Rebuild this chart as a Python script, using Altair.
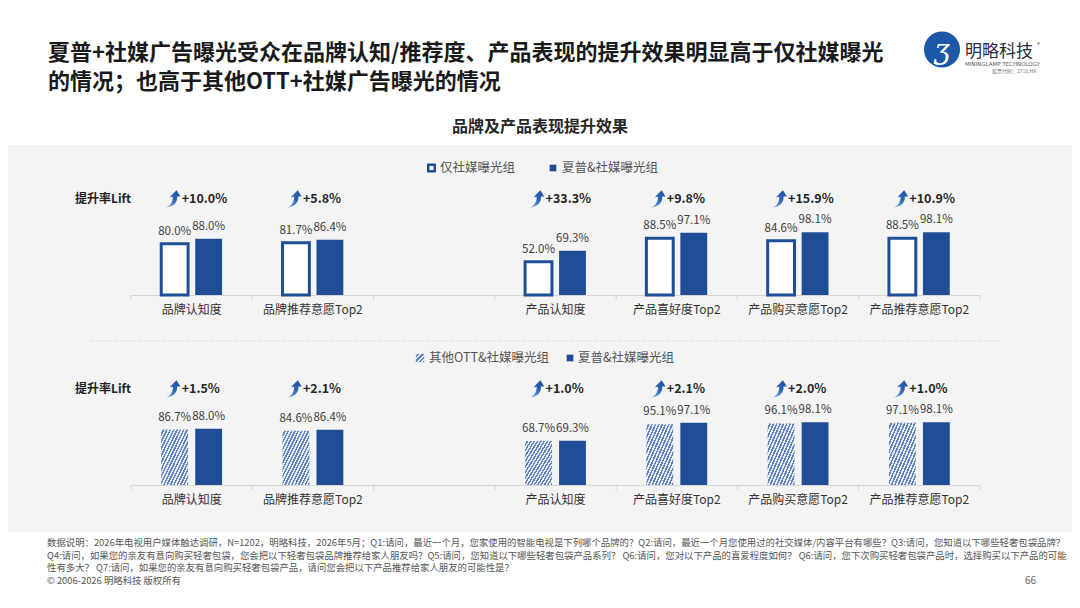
import altair as alt
import pandas as pd

FONT = "Noto Sans CJK SC"
BLUE = "#1f4e97"

# ---------------- data ----------------
CATS = ["品牌认知度", "品牌推荐意愿Top2", " ", "产品认知度", "产品喜好度Top2", "产品购买意愿Top2", "产品推荐意愿Top2"]
BAR_CATS = ["品牌认知度", "品牌推荐意愿Top2", "产品认知度", "产品喜好度Top2", "产品购买意愿Top2", "产品推荐意愿Top2"]

TOP_GROUPS = ["仅社媒曝光组", "夏普&社媒曝光组"]
TOP_BASE = [80.0, 81.7, 52.0, 88.5, 84.6, 88.5]
TOP_SHARP = [88.0, 86.4, 69.3, 97.1, 98.1, 98.1]
TOP_LIFT = ["+10.0%", "+5.8%", "+33.3%", "+9.8%", "+15.9%", "+10.9%"]

BOT_GROUPS = ["其他OTT&社媒曝光组", "夏普&社媒曝光组"]
BOT_BASE = [86.7, 84.6, 68.7, 95.1, 96.1, 97.1]
BOT_SHARP = [88.0, 86.4, 69.3, 97.1, 98.1, 98.1]
BOT_LIFT = ["+1.5%", "+2.1%", "+1.0%", "+2.1%", "+2.0%", "+1.0%"]

TITLE_LINES = ["夏普+社媒广告曝光受众在品牌认知/推荐度、产品表现的提升效果明显高于仅社媒曝光",
               "的情况；也高于其他OTT+社媒广告曝光的情况"]
SUBTITLE = "品牌及产品表现提升效果"
LIFT_LABEL = "提升率Lift"
NOTE_LINES = [
    "数据说明：2026年电视用户媒体触达调研，N=1202，明略科技，2026年5月；Q1:请问，最近一个月，您家使用的智能电视是下列哪个品牌的？Q2:请问，最近一个月您使用过的社交媒体/内容平台有哪些？Q3:请问，您知道以下哪些轻奢包袋品牌？",
    "Q4:请问，如果您的亲友有意向购买轻奢包袋，您会把以下轻奢包袋品牌推荐给家人朋友吗？Q5:请问，您知道以下哪些轻奢包袋产品系列？ Q6:请问，您对以下产品的喜爱程度如何？ Q6:请问，您下次购买轻奢包袋产品时，选择购买以下产品的可能",
    "性有多大？ Q7:请问，如果您的亲友有意向购买轻奢包袋产品，请问您会把以下产品推荐给家人朋友的可能性是？",
]
COPYRIGHT = "© 2006-2026 明略科技 版权所有"
PAGE_NO = "66"

# ---------------- styles ----------------
W = 1064
PX = 0.64  # pixels per percentage point


def hatch(n, light="#e6ecf6", dark="#6384bf", frac=0.5):
    stops = []
    for k in range(n):
        a, b, c = k / n, (k + frac) / n, (k + 1) / n
        stops += [alt.GradientStop(color=light, offset=a), alt.GradientStop(color=light, offset=b),
                  alt.GradientStop(color=dark, offset=b), alt.GradientStop(color=dark, offset=c)]
    return alt.Gradient(gradient="linear", stops=stops, x1=0, y1=0, x2=1, y2=1)


HATCH = hatch(16)
HATCH_SMALL = hatch(4)
ARROW = ("M -0.75 1 C -0.15 0.75 0.05 0.2 0.02 -0.25 L -0.35 -0.2 L 0.45 -1 L 0.9 -0.3 "
         "L 0.52 -0.28 C 0.58 0.4 0.1 0.9 -0.75 1 Z")
ARROW_FILL = alt.Gradient(gradient="linear",
                          stops=[alt.GradientStop(color="#86b4ee", offset=0),
                                 alt.GradientStop(color="#2a62b6", offset=0.55),
                                 alt.GradientStop(color="#1d4f9e", offset=1)],
                          x1=0, y1=1, x2=1, y2=0)

XSCALE = alt.Scale(domain=CATS, range=[123, 972], paddingInner=0, paddingOuter=0)
ONE = pd.DataFrame({"k": [0]})


def xenc(h, base_y, bp=None):
    axis = alt.Axis(offset=-(h - base_y), domainColor="#d6d6d6", domainWidth=1, ticks=False, tickSize=0,
                    labelPadding=9, labelFontSize=12, labelColor="#333333", labelAngle=0,
                    labelFont=FONT, grid=False, title=None, labelOverlap=False)
    kw = dict(scale=XSCALE, axis=axis, title=None, sort=CATS)
    if bp is not None:
        kw["bandPosition"] = bp
    return alt.X("cat:N", **kw)


def text_at(txt, x, y, **mk):
    return alt.Chart(ONE).mark_text(**mk).encode(x=alt.value(x), y=alt.value(y), text=alt.value(txt))


def legend_item(label, sym_kw, sx, tx, y):
    sym = alt.Chart(ONE).mark_point(**sym_kw).encode(x=alt.value(sx), y=alt.value(y))
    txt = text_at(label, tx, y, align="left", baseline="middle", fontSize=12.5, color="#555555", font=FONT)
    return [sym, txt]


def panel(groups, base_vals, sharp_vals, lifts, h, base_y, legend_y, lift_y, hatched, legend_pos):
    n = len(BAR_CATS)
    df = pd.DataFrame({"cat": BAR_CATS + BAR_CATS,
                       "grp": ["g0"] * n + ["g1"] * n,
                       "group": [groups[0]] * n + [groups[1]] * n,
                       "val": list(base_vals) + list(sharp_vals)})
    df["label"] = [f"{v:.1f}%" for v in df["val"]]
    Y = alt.Y("val:Q", scale=alt.Scale(domain=[-(h - base_y) / PX, base_y / PX], nice=False, zero=False),
              axis=None, title=None)
    XO = alt.XOffset("grp:N", sort=["g0", "g1"],
                     scale=alt.Scale(domain=["g0", "g1"], paddingInner=0.21, paddingOuter=0.89))
    X = xenc(h, base_y)
    base = alt.Chart(df)
    layers = []

    # separators at band boundaries
    layers.append(alt.Chart(pd.DataFrame({"cat": CATS})).mark_rule(color="#d6d6d6", strokeWidth=1).encode(
        x=xenc(h, base_y, 0), y=alt.value(base_y), y2=alt.value(base_y + 5)))
    layers.append(alt.Chart(pd.DataFrame({"cat": [CATS[-1]]})).mark_rule(color="#d6d6d6", strokeWidth=1).encode(
        x=xenc(h, base_y, 1), y=alt.value(base_y), y2=alt.value(base_y + 5)))

    first = base.transform_filter(alt.datum.grp == "g0")
    if hatched:
        layers.append(first.mark_bar(fill=HATCH, strokeWidth=0).encode(x=X, xOffset=XO, y=Y, y2=alt.datum(0)))
    else:
        layers.append(first.mark_bar(fill="white", stroke=BLUE, strokeWidth=3).encode(
            x=X, xOffset=XO, y=Y, y2=alt.datum(0)))
    layers.append(base.transform_filter(alt.datum.grp == "g1").mark_bar(color=BLUE).encode(
        x=X, xOffset=XO, y=Y, y2=alt.datum(0)))

    layers.append(base.mark_text(dy=-12, baseline="middle", fontSize=11.5, color="#404040", font=FONT).encode(
        x=X, xOffset=XO, y=Y, text="label:N"))

    ldf = pd.DataFrame({"cat": BAR_CATS, "lift": lifts})
    layers.append(alt.Chart(ldf).mark_point(shape=ARROW, filled=True, fill=ARROW_FILL, size=300,
                                            opacity=1, strokeWidth=0).encode(
        x=xenc(h, base_y, 0.343), y=alt.value(lift_y)))
    layers.append(alt.Chart(ldf).mark_text(align="left", dx=-10, baseline="middle", fontSize=12.5,
                                           fontWeight="bold", color="#262626", font=FONT).encode(
        x=X, y=alt.value(lift_y), text="lift:N"))
    layers.append(text_at(LIFT_LABEL, 67, lift_y, align="left", baseline="middle", fontSize=12,
                          fontWeight="bold", color="#222222", font=FONT))

    # legend
    (s0, t0), (s1, t1) = legend_pos
    if hatched:
        sym0 = dict(shape="square", filled=True, fill=HATCH_SMALL, size=70, opacity=1, strokeWidth=0)
    else:
        sym0 = dict(shape="square", filled=False, fill="white", stroke=BLUE, strokeWidth=2.5, size=42, opacity=1)
    sym1 = dict(shape="square", filled=True, fill=BLUE, size=45, opacity=1, strokeWidth=0)
    layers += legend_item(groups[0], sym0, s0, t0, legend_y)
    layers += legend_item(groups[1], sym1, s1, t1, legend_y)
    return layers


top_layers = panel(TOP_GROUPS, TOP_BASE, TOP_SHARP, TOP_LIFT, 195, 150, 23, 54, False,
                   [(423.5, 432), (545, 554)])
top = alt.layer(*top_layers).properties(width=W, height=195,
                                        view=alt.ViewBackground(fill="#f4f4f4", stroke=None))

bot_layers = [alt.Chart(ONE).mark_rule(color="#c4c4c4", strokeDash=[1, 2], strokeWidth=1).encode(
    x=alt.value(82), x2=alt.value(992), y=alt.value(1))]
bot_layers += panel(BOT_GROUPS, BOT_BASE, BOT_SHARP, BOT_LIFT, 192, 145, 18, 49, True,
                    [(412, 421), (562, 570)])
bottom = alt.layer(*bot_layers).properties(width=W, height=192,
                                           view=alt.ViewBackground(fill="#f4f4f4", stroke=None))

# header
header_layers = [
    text_at(TITLE_LINES, 40, 44.5, align="left", baseline="middle", fontSize=22, fontWeight="bold",
            lineHeight=29, color="#1a1a1a", font=FONT),
    text_at(SUBTITLE, 532, 119, align="center", baseline="middle", fontSize=16, fontWeight="bold",
            color="#262626", font=FONT),
    alt.Chart(ONE).mark_point(shape="circle", filled=True, fill="#1c58a8", size=1300, opacity=1,
                              strokeWidth=0).encode(x=alt.value(934), y=alt.value(41.5)),
    text_at("ʒ", 934, 43, align="center", baseline="middle", fontSize=28, fontStyle="italic",
            color="white", font="DejaVu Serif"),
    text_at("明略科技", 957, 44, align="left", baseline="middle", fontSize=17, color="#2b2b3a", font=FONT),
    text_at("MININGLAMP TECHNOLOGY", 957, 55.5, align="left", baseline="middle", fontSize=5.5,
            color="#555555", font="DejaVu Sans"),
    text_at("股票代码：2718.HK", 984, 62.5, align="left", baseline="middle", fontSize=5,
            color="#777777", font=FONT),
    text_at("®", 1029, 37, align="left", baseline="middle", fontSize=6, color="#555555", font=FONT),
]
header = alt.layer(*header_layers).properties(width=W, height=137,
                                              view=alt.ViewBackground(fill="white", stroke=None))

# footer
footer_layers = [
    text_at(NOTE_LINES + [COPYRIGHT], 39, 11, align="left", baseline="middle", fontSize=9.4,
            lineHeight=12.7, color="#555555", font=FONT),
    text_at(PAGE_NO, 1028, 49, align="right", baseline="middle", fontSize=10, color="#666666", font=FONT),
]
footer = alt.layer(*footer_layers).properties(width=W, height=68,
                                              view=alt.ViewBackground(fill="white", stroke=None))

chart = alt.vconcat(header, top, bottom, footer, spacing=0).properties(
    padding=0, background="white").configure(font=FONT).configure_view(stroke=None)

chart.save("out.html", embed_options={"renderer": "svg", "actions": False})
